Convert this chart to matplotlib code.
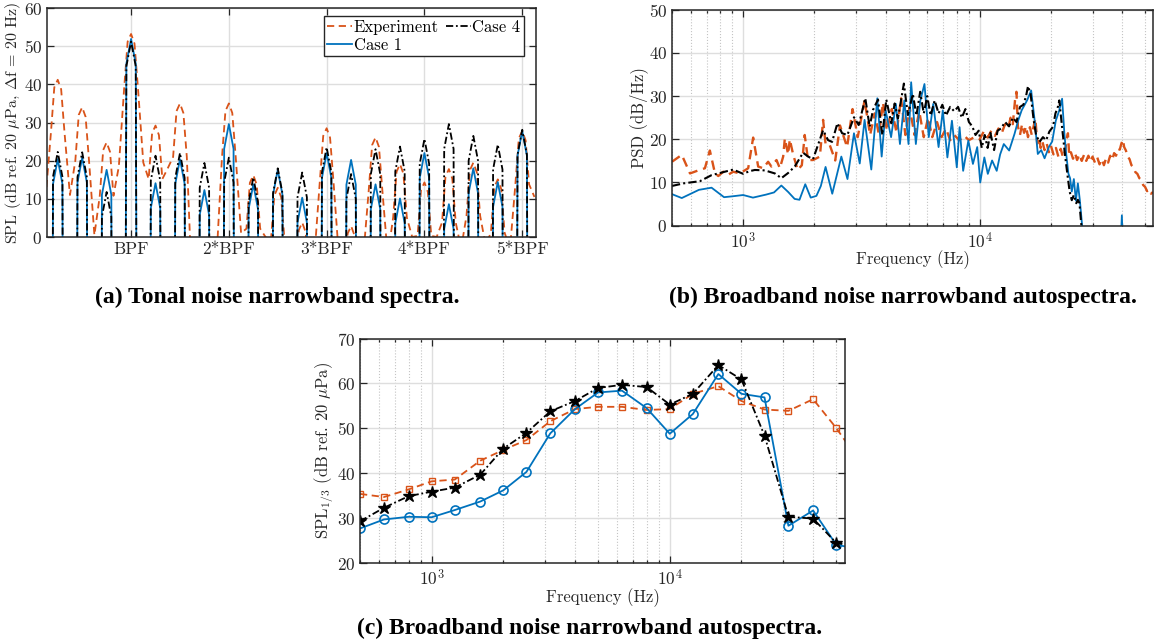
import matplotlib
matplotlib.use('Agg')
import matplotlib.pyplot as plt

plt.rcParams['font.family'] = 'cmr10'
plt.rcParams['mathtext.fontset'] = 'cm'
plt.rcParams['axes.unicode_minus'] = False
plt.rcParams['axes.formatter.use_mathtext'] = True

c_exp = '#D95319'
c_c1 = '#0072BD'
c_c4 = 'black'
dashdot = (0, (4, 1.5, 1, 1.5))
dashed = (0, (4, 2.5))

# ---- (a) tonal spectra: harmonic positions (in BPF) and peak levels (dB)
harmonic = [0.25, 0.5, 0.75, 1.0, 1.25, 1.5, 1.75, 2.0, 2.25, 2.5,
            2.75, 3.0, 3.25, 3.5, 3.75, 4.0, 4.25, 4.5, 4.75, 5.0]
peak_exp = [41.2, 34.0, 24.8, 53.2, 29.2, 35.0, -10, 35.0, 16.2, 12.9,
            3.8, 28.5, 2.9, 26.1, 19.1, 14.3, 17.8, 19.5, 15.1, 27.8]
valley_exp = [10, 11, 0.5, 18.5, 19.5, 18, -15, -5, 1, 0, -5,
              -5, -5, -5, -5, 0, 0, -3, -2, -3, 10.5]
peak_c1 = [20.4, 20.8, 17.6, 51.9, 14.1, 20.4, 12.3, 29.6, 13.8, 17.6,
           10.3, 22.0, 20.2, 13.8, 10.1, 22.0, 8.6, 18.0, 14.4, 27.8]
peak_c4 = [22.3, 22.2, 11.8, 51.2, 21.3, 22.0, 19.4, 20.8, 15.6, 18.0,
           16.9, 23.5, 16.5, 23.0, 23.7, 25.7, 29.6, 26.5, 24.2, 28.1]
bpf_ticks = [1, 2, 3, 4, 5]
bpf_labels = ['BPF', '2*BPF', '3*BPF', '4*BPF', '5*BPF']

# lobe shape read from the peaks (offset in BPF, level relative to peak)
sim_off = [-0.062, -0.048, 0, 0.048, 0.062]
sim_rel = [-120, -6.5, 0, -6.5, -120]
exp_off = [-0.07, -0.035, 0, 0.035, 0.07]
exp_rel = [-14, -2, 0, -2.5, -14]

# ---- (b) narrowband PSD (Hz, dB/Hz)
psd_exp = [(500, 14.8), (550, 16.4), (596, 12.1), (646, 12.8), (689, 13.3), (723, 17.4),
           (760, 12.1), (785, 11.5), (824, 12.5), (865, 11.8), (907, 12.5), (968, 12.1),
           (1050, 13.3), (1102, 20.4), (1157, 13.7), (1214, 13.3), (1275, 14.8), (1316, 13.7),
           (1383, 15.2), (1429, 13.3), (1476, 16.0), (1500, 20.2), (1549, 16.5), (1574, 20.0),
           (1626, 16.5), (1700, 12.9), (1770, 14.0), (1820, 21.0), (1880, 15.2), (1974, 15.2),
           (2110, 16.0), (2177, 24.5), (2230, 18.9), (2315, 18.9), (2450, 15.1), (2566, 23.2),
           (2750, 18.2), (2900, 27.0), (3050, 20.5), (3260, 29.0), (3440, 21.0), (3600, 26.0),
           (3750, 21.0), (3900, 28.5), (4050, 22.0), (4250, 27.0), (4450, 21.5), (4650, 29.5),
           (4850, 21.0), (5050, 27.5), (5300, 21.0), (5550, 26.5), (5800, 20.5), (6050, 25.0),
           (6300, 20.5), (6600, 24.0), (6900, 20.5), (7200, 22.5), (7500, 19.8), (7800, 21.0),
           (8200, 19.8), (8600, 20.8), (9000, 19.8), (9500, 20.5), (10000, 20.0), (10400, 21.8),
           (10800, 20.4), (11200, 22.0), (11600, 20.8), (12000, 22.5), (12400, 21.5), (12800, 23.5),
           (13200, 22.5), (13500, 25.0), (13800, 23.5), (14100, 29.0), (14300, 31.0), (14500, 23.0),
           (14800, 21.0), (15100, 23.5), (15400, 21.5), (15700, 23.0), (16000, 20.5), (16300, 22.8),
           (16600, 21.0), (16900, 23.0), (17200, 24.8), (17500, 19.0), (17800, 20.5), (18100, 18.0),
           (18400, 19.5), (18800, 17.5), (19200, 19.0), (19600, 17.0), (20000, 18.5), (20500, 16.5),
           (21000, 18.0), (21500, 16.0), (22000, 17.8), (22500, 15.8), (23000, 17.5), (23300, 20.0),
           (23600, 21.4), (23900, 16.2), (24300, 17.0), (24800, 15.5), (25300, 16.8), (25800, 15.2),
           (26400, 16.5), (27000, 15.0), (27600, 16.4), (28200, 15.0), (28800, 16.2), (29400, 14.8),
           (30000, 16.0), (30700, 14.6), (31400, 15.8), (32100, 14.2), (32800, 15.4), (33500, 14.0),
           (34200, 15.6), (34900, 14.6), (35600, 16.2), (36300, 15.2), (37000, 16.8), (37700, 16.2),
           (38400, 17.8), (39100, 17.6), (39700, 19.0), (40300, 19.9), (40800, 18.2), (41500, 17.4),
           (42200, 16.0), (43000, 15.4), (43800, 14.0), (44600, 13.6), (45500, 12.4), (46400, 12.0),
           (47300, 11.0), (48200, 10.6), (49100, 9.4), (50000, 9.0), (51000, 8.0), (52000, 8.4),
           (53000, 7.4), (54000, 7.8)]
psd_c1 = [(500, 7.3), (550, 6.4), (650, 8.3), (735, 8.8), (830, 6.6), (900, 6.8), (1000, 7.1),
          (1100, 6.5), (1250, 7.2), (1350, 7.7), (1450, 9.3), (1550, 7.8), (1650, 6.2), (1730, 6.0),
          (1830, 9.6), (1930, 6.5), (2040, 6.9), (2130, 9.2), (2230, 13.6), (2380, 7.4), (2600, 16.0),
          (2760, 10.8), (2940, 21.4), (3110, 14.4), (3260, 24.5), (3480, 13.0), (3690, 29.5),
          (3850, 16.0), (4000, 26.7), (4220, 20.5), (4420, 28.2), (4600, 18.9), (4800, 29.0),
          (5000, 18.9), (5130, 33.2), (5370, 18.9), (5610, 29.0), (5840, 32.8), (6090, 20.5),
          (6360, 28.2), (6700, 18.2), (6980, 26.7), (7300, 15.8), (7630, 24.3), (8000, 13.5),
          (8220, 22.8), (8510, 12.7), (8950, 19.7), (9360, 14.3), (9760, 18.2), (10050, 10.0),
          (10460, 15.8), (10820, 12.0), (11280, 15.1), (11800, 12.7), (12200, 16.5), (12640, 18.9),
          (13320, 17.4), (14040, 21.3), (14530, 24.3), (15040, 26.7), (15850, 29.0), (16500, 31.3),
          (17100, 24.0), (17600, 16.6), (18200, 17.5), (18800, 15.6), (19600, 18.2), (20250, 19.5),
          (20970, 24.3), (21690, 26.7), (22300, 29.4), (22800, 21.3), (23200, 16.7), (23700, 12.1),
          (24100, 11.0), (24500, 7.9), (25000, 10.8), (25500, 5.8), (26000, 9.8), (26500, 5.9),
          (27100, 0.0), (27500, -5), (39400, -5), (39900, 2.4), (40300, -5), (54000, -5)]
psd_c4 = [(500, 9.2), (560, 9.8), (656, 10.3), (735, 11.7), (837, 12.5), (907, 13.0), (1000, 12.0),
          (1060, 12.6), (1120, 12.9), (1235, 12.8), (1361, 12.1), (1450, 11.0), (1549, 12.2),
          (1652, 13.7), (1792, 16.9), (1881, 16.0), (1974, 15.4), (2177, 22.1), (2285, 19.8),
          (2376, 19.4), (2502, 23.7), (2619, 21.4), (2757, 21.0), (2941, 25.1), (3079, 23.3),
          (3283, 29.5), (3425, 22.9), (3538, 26.8), (3716, 29.2), (3875, 21.0), (4028, 29.2),
          (4229, 23.7), (4369, 28.3), (4510, 24.8), (4779, 32.9), (4970, 25.6), (5214, 30.5),
          (5400, 25.5), (5600, 31.0), (5800, 26.0), (6000, 30.0), (6200, 25.5), (6450, 29.0),
          (6700, 26.0), (6950, 28.0), (7200, 25.5), (7500, 27.5), (7800, 26.5), (8100, 27.5),
          (8400, 25.0), (8700, 27.0), (9000, 24.0), (9300, 23.0), (9600, 21.0), (9900, 22.0),
          (10200, 18.0), (10500, 21.0), (10800, 18.0), (11100, 21.5), (11500, 17.5), (11900, 22.0),
          (12300, 22.5), (12800, 24.0), (13300, 23.0), (13800, 25.0), (14300, 24.0), (14800, 27.5),
          (15300, 28.0), (15700, 30.0), (16000, 32.3), (16400, 30.6), (16900, 24.5), (17300, 21.0),
          (17900, 19.4), (18500, 20.5), (19100, 19.8), (19700, 21.8), (20400, 22.9), (20900, 26.0),
          (21400, 27.5), (21700, 29.0), (22100, 24.8), (22900, 16.7), (23500, 11.7), (24000, 7.9),
          (24500, 5.9), (25000, 7.1), (25600, 5.2), (26000, 6.0), (26400, 5.2), (26900, 0.0),
          (27200, -5), (54000, -5)]

# ---- (c) one-third octave band levels
f_third = [500, 630, 800, 1000, 1250, 1600, 2000, 2500, 3150, 4000, 5000, 6300,
           8000, 10000, 12500, 16000, 20000, 25000, 31500, 40000, 50000, 63000]
spl_exp = [35.4, 34.7, 36.4, 38.2, 38.6, 42.8, 45.2, 47.4, 51.6, 54.3, 54.8, 54.8,
           54.1, 54.3, 57.7, 59.4, 56.1, 54.2, 53.9, 56.5, 50.1, 42.5]
spl_c1 = [27.7, 29.7, 30.3, 30.2, 31.8, 33.7, 36.2, 40.3, 48.9, 54.3, 58.0, 58.4,
          54.5, 48.8, 53.2, 62.1, 57.7, 56.9, 28.3, 31.7, 24.1, 23.0]
spl_c4 = [29.3, 32.3, 34.9, 35.9, 36.8, 39.7, 45.5, 49.0, 53.8, 56.1, 59.0, 59.7,
          59.2, 55.3, 57.7, 64.1, 60.9, 48.4, 30.3, 29.9, 24.5, 23.5]


def tonal(peaks, offs, rel, valleys=None):
    xs, ys = [], []
    for i, (h, p) in enumerate(zip(harmonic, peaks)):
        if valleys is not None:
            xs.append(h - 0.125)
            ys.append(valleys[i])
        for o, r in zip(offs, rel):
            xs.append(h + o)
            ys.append(p + r)
    if valleys is not None:
        xs.append(harmonic[-1] + 0.125)
        ys.append(valleys[-1])
    return xs, ys


def style(ax):
    ax.tick_params(which='both', direction='in', top=True, right=True,
                   labelsize=12.5, color='#262626', labelcolor='#262626', width=0.9)
    ax.tick_params(which='major', length=5)
    ax.tick_params(which='minor', length=2.5)
    ax.grid(True, which='major', color='#dedede', lw=1.0)
    for s in ax.spines.values():
        s.set_linewidth(1.1)
        s.set_color('#262626')
    ax.set_axisbelow(True)


fig = plt.figure(figsize=(11.54, 6.43), dpi=100)

# (a)
ax = fig.add_axes([0.0407, 0.6314, 0.4237, 0.3561])
x, y = tonal(peak_exp, exp_off, exp_rel, valley_exp)
ax.plot(x, y, color=c_exp, ls=dashed, lw=1.3, label='Experiment')
x, y = tonal(peak_c1, sim_off, sim_rel)
ax.plot(x, y, color=c_c1, ls='-', lw=1.3, label='Case 1')
x, y = tonal(peak_c4, sim_off, sim_rel)
ax.plot(x, y, color=c_c4, ls=dashdot, lw=1.3, label='Case 4')
ax.set_xlim(0.14, 5.14)
ax.set_ylim(0, 60)
ax.set_xticks(bpf_ticks)
ax.set_xticklabels(bpf_labels)
ax.set_yticks(range(0, 61, 10))
ax.set_ylabel(r'SPL (dB ref. 20 $\mu$Pa, $\Delta$f = 20 Hz)', fontsize=11.5, color='#262626')
ax.yaxis.set_label_coords(-0.049, 0.5)
style(ax)
leg = ax.legend(ncol=2, loc='upper right', bbox_to_anchor=(0.975, 0.965), borderaxespad=0,
                fontsize=12, frameon=True, fancybox=False, handlelength=1.5,
                columnspacing=0.4, handletextpad=0.1, borderpad=0.2, labelspacing=0.15)
leg.get_frame().set_edgecolor('#262626')
leg.get_frame().set_linewidth(1.0)
leg.get_frame().set_alpha(1)

# (b)
ax = fig.add_axes([0.5823, 0.6490, 0.4168, 0.3359])
ax.plot([p[0] for p in psd_exp], [p[1] for p in psd_exp], color=c_exp, ls=dashed, lw=1.7)
ax.plot([p[0] for p in psd_c1], [p[1] for p in psd_c1], color=c_c1, ls='-', lw=1.3)
ax.plot([p[0] for p in psd_c4], [p[1] for p in psd_c4], color=c_c4, ls=dashdot, lw=1.5)
ax.set_xscale('log')
ax.set_xlim(500, 54000)
ax.set_ylim(0, 50)
ax.set_yticks(range(0, 51, 10))
ax.set_xlabel('Frequency (Hz)', fontsize=12, color='#262626')
ax.set_ylabel('PSD (dB/Hz)', fontsize=12, color='#262626')
ax.xaxis.set_label_coords(0.5, -0.116)
ax.yaxis.set_label_coords(-0.050, 0.5)
style(ax)
ax.grid(True, which='minor', axis='x', color='#c4c4c4', ls=':', lw=0.8)

# (c)
ax = fig.add_axes([0.3120, 0.1244, 0.4203, 0.3490])
ax.plot(f_third, spl_exp, color=c_exp, ls=dashed, lw=1.3, marker='s', ms=5,
        mfc='none', mew=1.0)
ax.plot(f_third, spl_c1, color=c_c1, ls='-', lw=1.3, marker='o', ms=6.5,
        mfc='none', mew=1.2)
ax.plot(f_third, spl_c4, color=c_c4, ls=dashdot, lw=1.3, marker='*', ms=9)
ax.set_xscale('log')
ax.set_xlim(500, 54500)
ax.set_ylim(20, 70)
ax.set_yticks(range(20, 71, 10))
ax.set_xlabel('Frequency (Hz)', fontsize=12, color='#262626')
ax.set_ylabel(r'SPL$_{1/3}$ (dB ref. 20 $\mu$Pa)', fontsize=12, color='#262626')
ax.xaxis.set_label_coords(0.5, -0.111)
ax.yaxis.set_label_coords(-0.049, 0.5)
style(ax)
ax.grid(True, which='minor', axis='x', color='#c4c4c4', ls=':', lw=0.8)

cap = dict(fontfamily='Liberation Serif', fontweight='bold', fontsize=17,
           ha='center', va='center')
fig.text(277 / 1154, 1 - 297 / 643, '(a) Tonal noise narrowband spectra.', **cap)
fig.text(903 / 1154, 1 - 297 / 643, '(b) Broadband noise narrowband autospectra.', **cap)
fig.text(590 / 1154, 1 - 628 / 643, '(c) Broadband noise narrowband autospectra.', **cap)

fig.savefig('out.png', dpi=100)
